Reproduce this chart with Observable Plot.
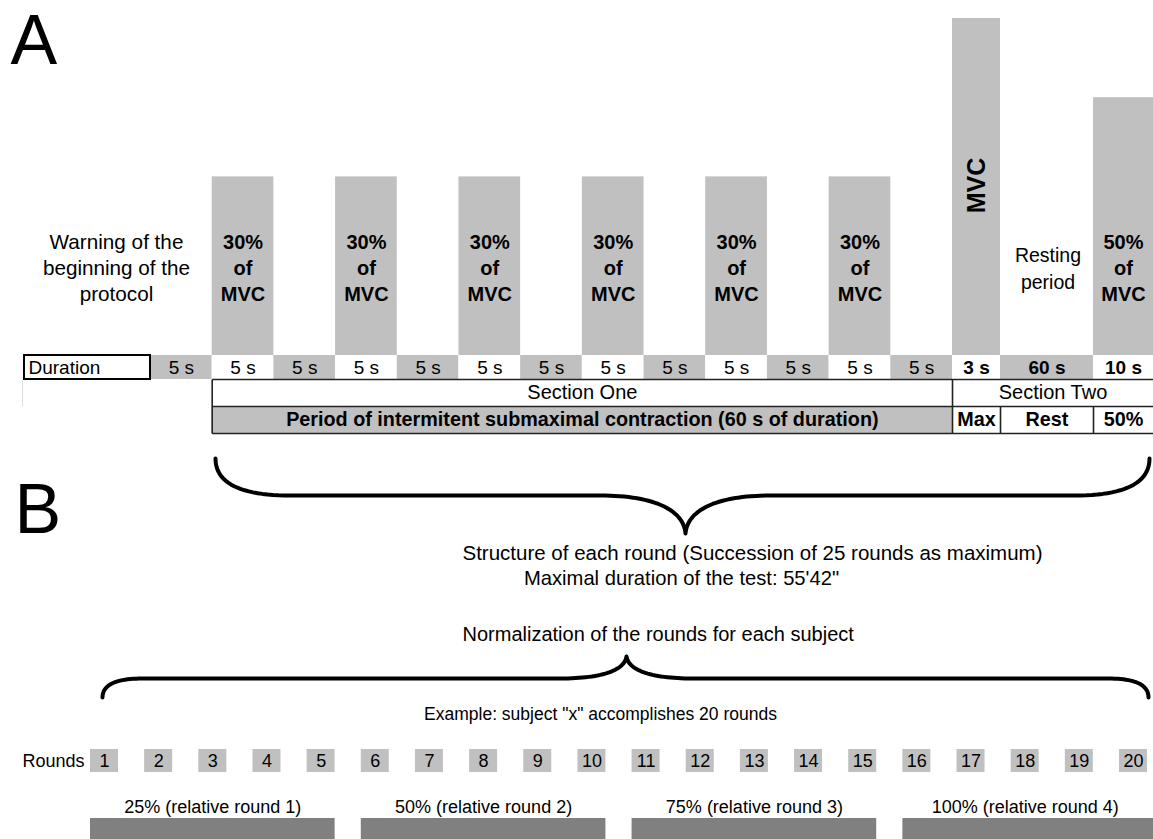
<!DOCTYPE html>
<html>
<head>
<meta charset="utf-8">
<script src="https://cdn.jsdelivr.net/npm/d3@7"></script>
<script src="https://cdn.jsdelivr.net/npm/@observablehq/plot@0.6"></script>
<style>
  html, body { margin: 0; padding: 0; background: #fff; }
  #chart svg { display: block; }
</style>
</head>
<body>
<div id="chart"></div>
<script>
// ---------------- DATA ----------------
const panelLabels = ["A", "B"];
const cellDurations = ["5 s","5 s","5 s","5 s","5 s","5 s","5 s","5 s","5 s","5 s","5 s","5 s","5 s","3 s","60 s","10 s"];
const cellPhases = ["warning","30%","rest","30%","rest","30%","rest","30%","rest","30%","rest","30%","rest","MVC","rest","50%"];
const contractionLabels = ["30%\nof\nMVC","30%\nof\nMVC","30%\nof\nMVC","30%\nof\nMVC","30%\nof\nMVC","30%\nof\nMVC","MVC","50%\nof\nMVC"];
// drawn bar height, relative to the MVC bar (= 100)
const contractionLevels = [53, 53, 53, 53, 53, 53, 100, 76.5];
const restLabels = ["Warning of the\nbeginning of the\nprotocol", "Resting\nperiod"];
const durationHeader = "Duration";
const sectionLabels = ["Section One", "Section Two"];
const periodLabels = ["Period of intermitent submaximal contraction (60 s of duration)", "Max", "Rest", "50%"];
const captionLines = ["Structure of each round (Succession of 25 rounds as maximum)", "Maximal duration of the test: 55'42\""];
const normalizationTitle = "Normalization of the rounds for each subject";
const exampleTitle = "Example: subject \"x\" accomplishes 20 rounds";
const roundsHeader = "Rounds";
const roundLabels = ["1","2","3","4","5","6","7","8","9","10","11","12","13","14","15","16","17","18","19","20"];
const relativeLabels = ["25% (relative round 1)", "50% (relative round 2)", "75% (relative round 3)", "100% (relative round 4)"];

// ---------------- LAYOUT ----------------
const W = 1153, H = 839;
const FONT = "Liberation Sans, Arial, Helvetica, sans-serif";
const GREY = "#c0c0c0", DARK = "#808080";
const tableLeft = 150, split = 952, rightEdge = 1153;
const fiveCount = cellDurations.filter(d => d === "5 s").length;
const fiveW = (split - tableLeft) / fiveCount;
const specialEdges = [split, 1000, 1093, rightEdge];
const rowTop = 355, rowBot = 379, secBot = 406, perBot = 433;
const yLevel = d3.scaleLinear([0, 100], [rowTop, 18]);

const cells = cellDurations.map((d, i) => {
  const x1 = i < fiveCount ? tableLeft + i * fiveW : specialEdges[i - fiveCount];
  const x2 = i < fiveCount ? x1 + fiveW : specialEdges[i - fiveCount + 1];
  const contraction = ["30%", "MVC", "50%"].includes(cellPhases[i]);
  return {label: d, phase: cellPhases[i], x1, x2, cx: (x1 + x2) / 2, y1: rowTop, y2: rowBot,
          fill: contraction ? "#ffffff" : GREY, bold: i >= fiveCount};
});
const contractionCells = cells.filter(c => ["30%", "MVC", "50%"].includes(c.phase));
const bars = contractionCells.map((c, i) => ({x1: c.x1, x2: c.x2, y1: yLevel(contractionLevels[i]), y2: rowTop,
  label: contractionLabels[i], cx: c.cx, rotated: c.phase === "MVC"}));
const restCells = [{cx: 116}, cells.find((c, i) => i > fiveCount && c.phase === "rest")];
const restText = restLabels.map((t, i) => ({text: t, x: restCells[i].cx + (i === 1 ? 1 : 0), y: 266.5}));

const sectionText = [
  {text: sectionLabels[0], x: (cells[1].x1 + split) / 2, y: (rowBot + secBot) / 2},
  {text: sectionLabels[1], x: (split + rightEdge) / 2, y: (rowBot + secBot) / 2}
];
const periodCells = [
  {x1: cells[1].x1, x2: split}, {x1: specialEdges[0], x2: specialEdges[1]},
  {x1: specialEdges[1], x2: specialEdges[2]}, {x1: specialEdges[2], x2: specialEdges[3]}
].map((c, i) => ({...c, text: periodLabels[i], cx: (c.x1 + c.x2) / 2, y: (secBot + perBot) / 2}));

const L = cells[1].x1;
const tableLines = [
  {x1: L, y1: rowBot, x2: rightEdge, y2: rowBot},
  {x1: L, y1: secBot, x2: rightEdge, y2: secBot},
  {x1: L, y1: perBot, x2: rightEdge, y2: perBot},
  {x1: L, y1: rowBot, x2: L, y2: perBot},
  {x1: split, y1: rowBot, x2: split, y2: perBot},
  {x1: specialEdges[1], y1: secBot, x2: specialEdges[1], y2: perBot},
  {x1: specialEdges[2], y1: secBot, x2: specialEdges[2], y2: perBot}
];

// Braces (geometry only)
function quad(p0, c, p1, n = 24) {
  return d3.range(n + 1).map(k => { const t = k / n, u = 1 - t;
    return [u*u*p0[0] + 2*u*t*c[0] + t*t*p1[0], u*u*p0[1] + 2*u*t*c[1] + t*t*p1[1]]; });
}
function cubic(p0, c1, c2, p1, n = 30) {
  return d3.range(n + 1).map(k => { const t = k / n, u = 1 - t;
    return [u*u*u*p0[0] + 3*u*u*t*c1[0] + 3*u*t*t*c2[0] + t*t*t*p1[0],
            u*u*u*p0[1] + 3*u*u*t*c1[1] + 3*u*t*t*c2[1] + t*t*t*p1[1]]; });
}
function brace(id, xL, xR, xTip, yEnd, yMid, yTip, r, tipW) {
  const pts = [
    ...quad([xL, yEnd], [xL, yMid], [xL + r, yMid]),
    ...cubic([xTip - tipW, yMid], [xTip - tipW * 0.4, yMid], [xTip - 2, yMid + (yTip - yMid) * 0.35], [xTip, yTip]),
    ...cubic([xTip, yTip], [xTip + 2, yMid + (yTip - yMid) * 0.35], [xTip + tipW * 0.4, yMid], [xTip + tipW, yMid]),
    ...quad([xR - r, yMid], [xR, yMid], [xR, yEnd])
  ];
  return pts.map(([x, y]) => ({id, x, y}));
}
const braces = [
  ...brace("A", 215, 1149, 685, 458, 495, 533, 75, 85),
  ...brace("B", 102, 1148, 626, 697, 678, 656, 40, 66)
];

const rx0 = 104, rStep = (1133 - 104) / 19, boxHalf = 14;
const roundBoxes = roundLabels.map((t, i) => ({text: t, cx: rx0 + i * rStep, x1: rx0 + i * rStep - boxHalf, x2: rx0 + i * rStep + boxHalf, y1: 749, y2: 772, y: 761}));
const perGroup = roundLabels.length / relativeLabels.length;
const groupBars = relativeLabels.map((t, g) => {
  const a = roundBoxes[g * perGroup], b = roundBoxes[g * perGroup + perGroup - 1];
  const x2 = g === relativeLabels.length - 1 ? rightEdge : b.x2;
  return {text: t, x1: a.x1, x2, cx: (a.x1 + b.x2) / 2, y1: 818, y2: H};
});

const leftTexts = [
  {text: captionLines[0], x: 462, y: 553, size: 20.5},
  {text: normalizationTitle, x: 462, y: 634, size: 20}
];
const centerTexts = [
  {text: captionLines[1], x: 681, y: 578, size: 20.2},
  {text: exampleTitle, x: 600, y: 714, size: 17.5}
];

// ---------------- PLOT ----------------
const chart = Plot.plot({
  width: W, height: H, margin: 0,
  x: {domain: [0, W], range: [0, W], axis: null},
  y: {domain: [0, H], range: [0, H], axis: null},
  style: {fontFamily: FONT, background: "#fff", color: "#000"},
  marks: [
    // Panel labels
    Plot.text(panelLabels, {x: [10, 14], y: [63, 532], text: d => d, fontSize: 70, textAnchor: "start", lineAnchor: "bottom", fill: "#000"}),
    // Bars
    Plot.rect(bars, {x1: "x1", x2: "x2", y1: "y1", y2: "y2", fill: GREY}),
    Plot.text(bars.filter(d => !d.rotated), {x: "cx", y: 266, text: "label", fontSize: 20, fontWeight: "bold", lineHeight: 1.3, fill: "#000"}),
    Plot.text(bars.filter(d => d.rotated), {x: "cx", y: 185, text: "label", fontSize: 25, fontWeight: "bold", rotate: -90, fill: "#000"}),
    Plot.text(restText.slice(0, 1), {x: "x", y: "y", text: "text", fontSize: 20.7, lineHeight: 1.26, fill: "#000"}),
    Plot.text(restText.slice(1), {x: "x", y: "y", text: "text", fontSize: 19.5, lineHeight: 1.38, fill: "#000"}),
    // Duration row
    Plot.rect(cells, {x1: "x1", x2: "x2", y1: "y1", y2: "y2", fill: "fill"}),
    Plot.rect([{x1: 24, x2: tableLeft, y1: rowTop, y2: rowBot}], {x1: "x1", x2: "x2", y1: "y1", y2: "y2", fill: "#fff", stroke: "#000", strokeWidth: 2}),
    Plot.text([durationHeader], {x: [28], y: [(rowTop + rowBot) / 2], text: d => d, fontSize: 19, textAnchor: "start", fill: "#000"}),
    Plot.text(cells.filter(c => !c.bold), {x: "cx", y: (rowTop + rowBot) / 2, text: "label", fontSize: 19, fill: "#000"}),
    Plot.text(cells.filter(c => c.bold), {x: "cx", y: (rowTop + rowBot) / 2, text: "label", fontSize: 19, fontWeight: "bold", fill: "#000"}),
    Plot.ruleX([{x: 22, y1: rowBot + 1, y2: secBot}], {x: "x", y1: "y1", y2: "y2", stroke: "#ddd", strokeWidth: 1}),
    // Section / period rows
    Plot.rect([periodCells[0]], {x1: "x1", x2: "x2", y1: secBot, y2: perBot, fill: GREY}),
    Plot.link(tableLines, {x1: "x1", y1: "y1", x2: "x2", y2: "y2", stroke: "#222", strokeWidth: 1.6}),
    Plot.text(sectionText, {x: "x", y: "y", text: "text", fontSize: 20, fill: "#000"}),
    Plot.text(periodCells, {x: "cx", y: "y", text: "text", fontSize: 19.8, fontWeight: "bold", fill: "#000"}),
    // Braces
    Plot.line(braces, {x: "x", y: "y", z: "id", stroke: "#000", strokeWidth: 4, strokeLinecap: "round", strokeLinejoin: "round"}),
    // Captions
    Plot.text(leftTexts, {x: "x", y: "y", text: "text", fontSize: "size", textAnchor: "start", fill: "#000"}),
    Plot.text(centerTexts, {x: "x", y: "y", text: "text", fontSize: "size", fill: "#000"}),
    // Rounds
    Plot.text([roundsHeader], {x: [84], y: [761], text: d => d, fontSize: 18, textAnchor: "end", fill: "#000"}),
    Plot.rect(roundBoxes, {x1: "x1", x2: "x2", y1: "y1", y2: "y2", fill: GREY}),
    Plot.text(roundBoxes, {x: "cx", y: "y", text: "text", fontSize: 18, fill: "#000"}),
    // Normalized groups
    Plot.rect(groupBars, {x1: "x1", x2: "x2", y1: "y1", y2: "y2", fill: DARK}),
    Plot.text(groupBars, {x: "cx", y: 807, text: "text", fontSize: 18, fill: "#000"})
  ]
});
document.getElementById("chart").appendChild(chart);
</script>
</body>
</html>
